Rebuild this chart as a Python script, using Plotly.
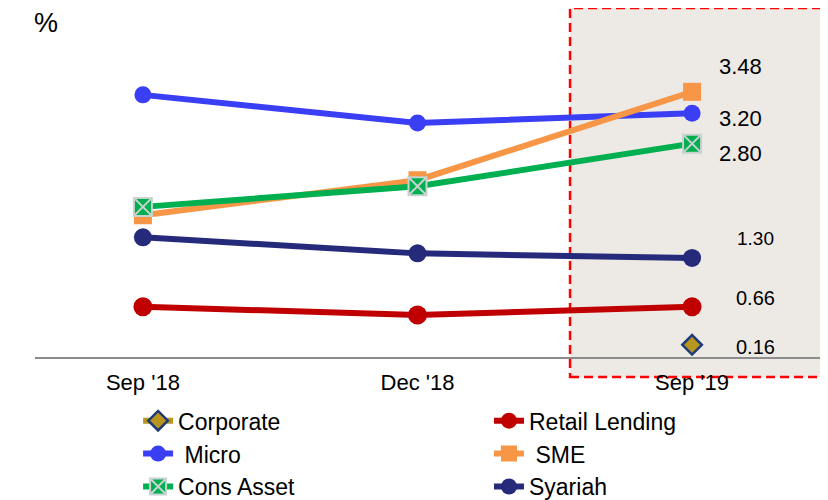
import plotly.graph_objects as go

periods = ["Sep '18", "Dec '18", "Sep '19"]
corporate = [None, None, 0.16]
retail_lending = [0.66, 0.55, 0.66]
micro = [3.44, 3.07, 3.20]
sme = [1.86, 2.32, 3.48]
cons_asset = [1.97, 2.24, 2.80]
syariah = [1.57, 1.36, 1.30]

series_names = ["Corporate", "Retail Lending", "\u00a0Micro", "\u00a0SME", "Cons Asset", "Syariah"]
series_values = [corporate, retail_lending, micro, sme, cons_asset, syariah]

styles = [
    dict(color="#B8961E", symbol="diamond", size=15, mline="#1F3A7A", mlw=2.5, legend="legend"),
    dict(color="#C00000", symbol="circle", size=19, mline="#C00000", mlw=0, legend="legend2"),
    dict(color="#3A3FF5", symbol="circle", size=17, mline="#3A3FF5", mlw=0, legend="legend"),
    dict(color="#F79646", symbol="square", size=18, mline="#F79646", mlw=0, legend="legend2"),
    dict(color="#00B050", symbol="square-x", size=18, mline="#C8D2D0", mlw=2, legend="legend"),
    dict(color="#262A7A", symbol="circle", size=18, mline="#262A7A", mlw=0, legend="legend2"),
]

# label offsets (pixels) for the last-period values
label_shifts = [(63, -2, 20), (63, 9, 20), (48, -5, 22), (48, 25, 22), (48, -10, 22), (63, 19, 19)]

fig = go.Figure()

fig.add_shape(type="rect", xref="paper", yref="paper",
              x0=0.6747, x1=0.9975, y0=-0.0573, y1=1.0,
              fillcolor="#EDEAE6", line=dict(color="#FF0000", width=2.5, dash="9px,5px"),
              layer="below")

for i, (name, vals, st) in enumerate(zip(series_names, series_values, styles)):
    fig.add_trace(go.Scatter(
        x=periods, y=vals, name=name, mode="lines+markers",
        line=dict(color=st["color"], width=6),
        marker=dict(symbol=st["symbol"], size=st["size"], color=st["color"],
                    line=dict(color=st["mline"], width=st["mlw"])),
        legend=st["legend"], legendgroup=name, cliponaxis=False,
    ))

for vals, (xs, ys, fs) in zip(series_values, label_shifts):
    v = vals[-1]
    fig.add_annotation(x=periods[-1], y=v, text=f"{v:.2f}", showarrow=False,
                       xshift=xs, yshift=ys, font=dict(size=fs, color="black"))

fig.add_annotation(xref="paper", yref="paper", x=0.014, y=1.0, xanchor="center",
                   yanchor="top", yshift=2,
                   text="%", showarrow=False, font=dict(size=27, color="black"))

fig.update_layout(
    width=820, height=492,
    margin=dict(l=27, r=0, t=0, b=143, autoexpand=False),
    plot_bgcolor="white", paper_bgcolor="white",
    font=dict(family="Liberation Sans, Arial, sans-serif", color="black"),
    showlegend=True,
    legend=dict(x=0.130, y=-0.121, xanchor="left", yanchor="top",
                font=dict(size=23), bgcolor="rgba(0,0,0,0)", tracegroupgap=0),
    legend2=dict(x=0.5725, y=-0.121, xanchor="left", yanchor="top",
                 font=dict(size=23), bgcolor="rgba(0,0,0,0)", tracegroupgap=0),
    xaxis=dict(type="category", range=[-0.393, 2.495], showgrid=False, showline=True,
               linecolor="#8C8C8C", linewidth=2, ticks="", tickfont=dict(size=22),
               ticklabelstandoff=5, zeroline=False),
    yaxis=dict(range=[0, 4.58], visible=False, showgrid=False, zeroline=False),
)

fig.write_html("out.html")
